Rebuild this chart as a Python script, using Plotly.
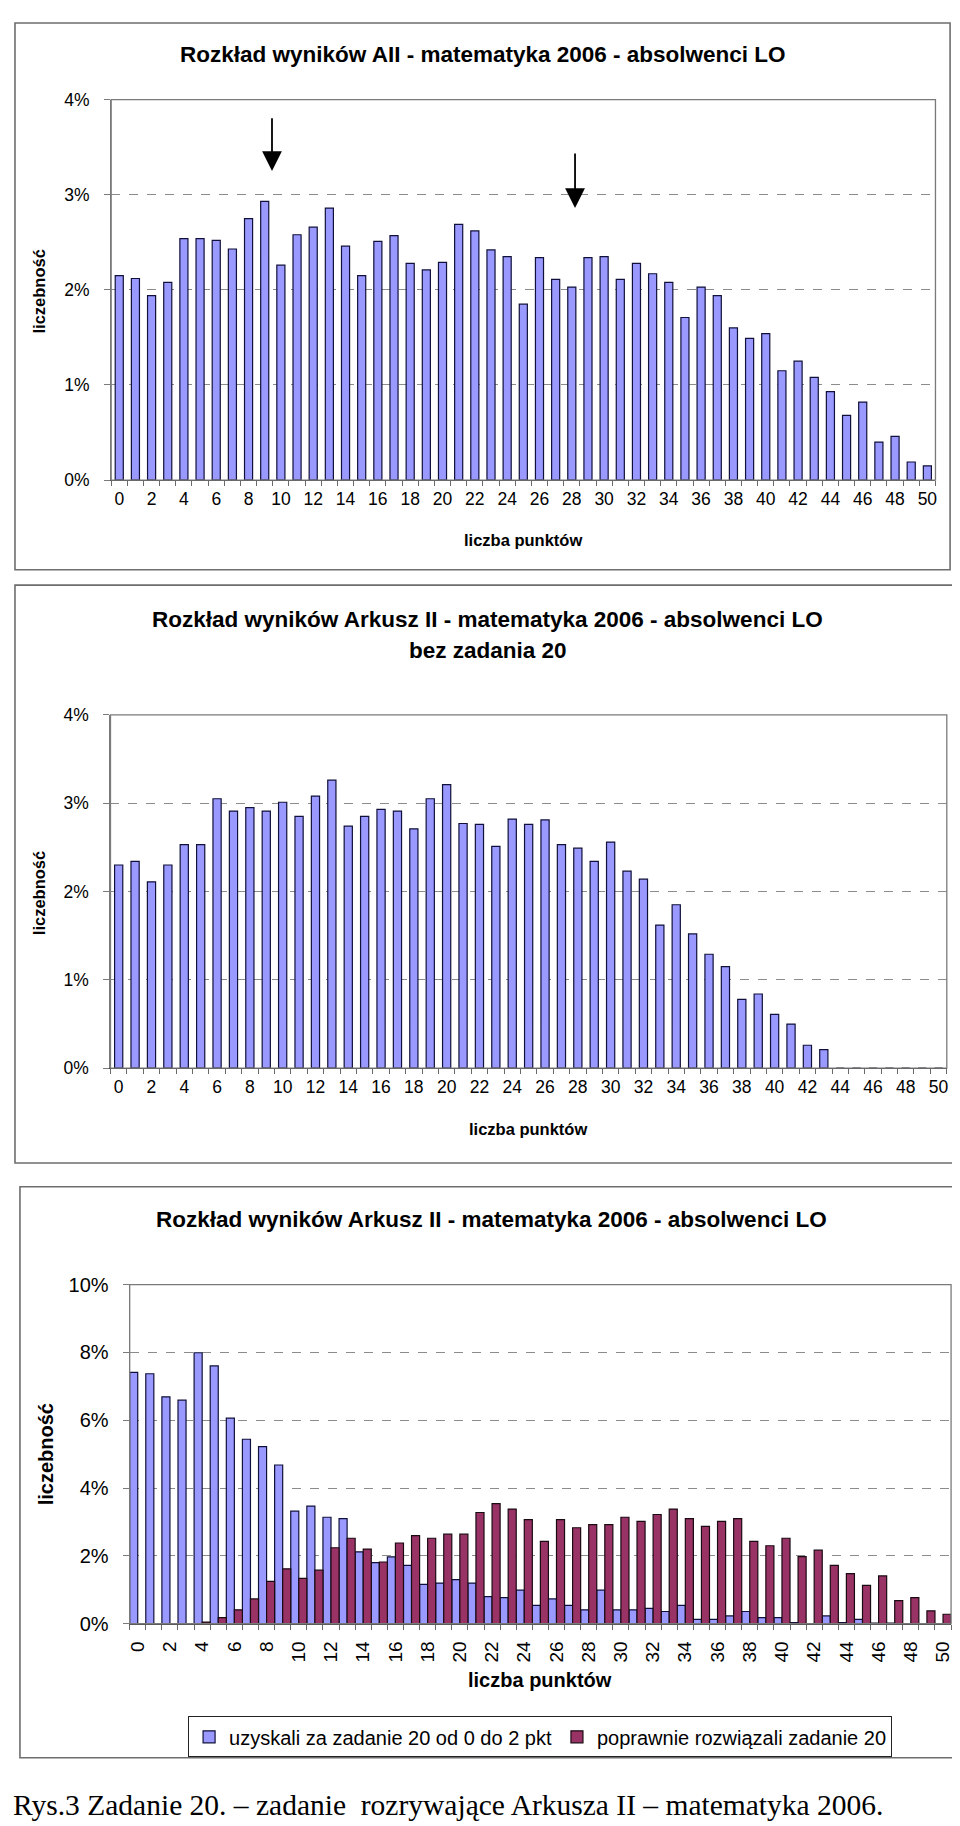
import plotly.graph_objects as go

# ---------------- data ----------------
points = list(range(51))
tick_points = list(range(0, 51, 2))
tick_labels = [str(v) for v in tick_points]

# chart 1: Arkusz I+II (AII) - % of students per score
all_ii = [2.15, 2.12, 1.94, 2.08, 2.54, 2.54, 2.52, 2.43, 2.75, 2.93,
          2.26, 2.58, 2.66, 2.86, 2.46, 2.15, 2.51, 2.57, 2.28, 2.21,
          2.29, 2.69, 2.62, 2.42, 2.35, 1.85, 2.34, 2.11, 2.03, 2.34,
          2.35, 2.11, 2.28, 2.17, 2.08, 1.71, 2.03, 1.94, 1.60, 1.49,
          1.54, 1.15, 1.25, 1.08, 0.93, 0.68, 0.82, 0.40, 0.46, 0.19, 0.15]

# chart 2: Arkusz II without task 20
bez_20 = [2.30, 2.34, 2.11, 2.30, 2.53, 2.53, 3.05, 2.91, 2.95, 2.91,
          3.01, 2.85, 3.08, 3.26, 2.74, 2.85, 2.93, 2.91, 2.71, 3.05,
          3.21, 2.77, 2.76, 2.51, 2.82, 2.76, 2.81, 2.53, 2.49, 2.34,
          2.56, 2.23, 2.14, 1.62, 1.85, 1.52, 1.29, 1.15, 0.78, 0.84,
          0.61, 0.50, 0.26, 0.21, 0, 0, 0, 0, 0, 0, 0]

# chart 3: two groups
low_20 = [7.41, 7.37, 6.69, 6.59, 7.99, 7.60, 6.06, 5.44, 5.22, 4.68,
          3.32, 3.47, 3.14, 3.10, 2.12, 1.80, 1.97, 1.72, 1.16, 1.20,
          1.30, 1.20, 0.80, 0.77, 0.99, 0.54, 0.73, 0.54, 0.41, 0.99,
          0.41, 0.41, 0.45, 0.36, 0.54, 0.13, 0.13, 0.23, 0.36, 0.18,
          0.18, 0.03, 0.0, 0.23, 0.03, 0.13, 0.02, 0.02, 0.0, 0.0, 0.0]
ok_20 = [0, 0, 0, 0, 0.05, 0.18, 0.41, 0.73, 1.25, 1.62,
         1.34, 1.58, 2.24, 2.52, 2.20, 1.82, 2.38, 2.60, 2.52, 2.64,
         2.64, 3.28, 3.54, 3.38, 3.07, 2.43, 3.07, 2.83, 2.92, 2.92,
         3.14, 3.02, 3.22, 3.38, 3.10, 2.87, 3.02, 3.10, 2.43, 2.30,
         2.52, 1.98, 2.17, 1.72, 1.48, 1.13, 1.41, 0.68, 0.77, 0.38, 0.28]

series_names = ["uzyskali za zadanie 20 od 0 do 2 pkt",
                "poprawnie rozwiązali zadanie 20"]

# arrows on chart 1: (score position, tip %, tail %)
arrow_x = [9.45, 28.2]
arrow_tip = [3.25, 2.86]
arrow_tail = [3.82, 3.45]

titles = ["Rozkład wyników AII - matematyka 2006 - absolwenci LO",
          "Rozkład wyników Arkusz II - matematyka 2006 - absolwenci LO",
          "bez zadania 20",
          "Rozkład wyników Arkusz II - matematyka 2006 - absolwenci LO"]
x_title = "liczba punktów"
y_title = "liczebność"
caption = "Rys.3 Zadanie 20. – zadanie \u00a0rozrywające Arkusza II – matematyka 2006."

# ---------------- layout helpers ----------------
W, H = 960, 1826
FONT = "Liberation Sans, Arial, sans-serif"
BLUE = "#9999FF"
MAROON = "#993366"
EDGE = "#10103a"
GRID = "#8c8c8c"


def fx(v):
    return v / W


def fy(v):
    return 1 - v / H


fig = go.Figure()

fig.add_trace(go.Bar(x=points, y=all_ii, marker=dict(color=BLUE, line=dict(color=EDGE, width=1.2)),
                     width=0.5, offset=-0.25, xaxis="x", yaxis="y", showlegend=False))
fig.add_trace(go.Bar(x=points, y=bez_20, marker=dict(color=BLUE, line=dict(color=EDGE, width=1.2)),
                     width=0.5, offset=-0.25, xaxis="x2", yaxis="y2", showlegend=False))
fig.add_trace(go.Bar(x=points, y=low_20, name=series_names[0],
                     marker=dict(color=BLUE, line=dict(color=EDGE, width=1.2)),
                     width=0.5, offset=-0.5, xaxis="x3", yaxis="y3"))
fig.add_trace(go.Bar(x=points, y=ok_20, name=series_names[1],
                     marker=dict(color=MAROON, line=dict(color="#1a0a12", width=1.2)),
                     width=0.5, offset=0.0, xaxis="x3", yaxis="y3"))

charts = [
    dict(xd=(100.7, 929.3), yd=(81.7, 466.7), ymax=4, dtick=1, ys=17.5, xs=17.5, ang=0, stand=3, ystand=11),
    dict(xd=(100.0, 940.7), yd=(704.3, 1062.0), ymax=4, dtick=1, ys=17.5, xs=17.5, ang=0, stand=3, ystand=11),
    dict(xd=(119.3, 945.0), yd=(1281.0, 1624.3), ymax=10, dtick=2, ys=20, xs=19, ang=-90, stand=9, ystand=10),
]

layout = dict(
    width=W, height=H, margin=dict(l=0, r=0, t=0, b=0),
    paper_bgcolor="white", plot_bgcolor="white",
    font=dict(family=FONT, color="black"),
    barmode="overlay",
    legend=dict(orientation="h", x=fx(178), y=fy(1718), xanchor="left", yanchor="top",
                bordercolor="#222222", borderwidth=1, bgcolor="white",
                font=dict(size=20, family=FONT), traceorder="normal",
                itemwidth=30, tracegroupgap=0),
    shapes=[], annotations=[],
)

for i, c in enumerate(charts):
    sx = "" if i == 0 else str(i + 1)
    layout["xaxis" + sx] = dict(
        domain=[fx(c["xd"][0]), fx(c["xd"][1])], anchor="y" + sx,
        range=[-0.5, 50.5], tickmode="array", tickvals=tick_points, ticktext=tick_labels,
        ticks="", showgrid=False, zeroline=False, showline=True, linecolor="#3a3a3a", linewidth=1.2,
        tickangle=c["ang"], tickfont=dict(size=c["xs"], family=FONT, color="black"),
        ticklabelstandoff=c["stand"],
        minor=dict(tickmode="linear", tick0=-0.5, dtick=1, ticks="outside", ticklen=5,
                   tickcolor="#6a6a6a", tickwidth=1, showgrid=False),
        fixedrange=True,
    )
    layout["yaxis" + sx] = dict(
        domain=[fy(c["yd"][1]), fy(c["yd"][0])], anchor="x" + sx,
        range=[0, c["ymax"]], dtick=c["dtick"], tick0=0, ticksuffix="%",
        ticks="outside", ticklen=6, tickcolor="#7a7a7a",
        showgrid=True, gridcolor=GRID, griddash="dash", gridwidth=1,
        zeroline=False, showline=True, linecolor="#7a7a7a", linewidth=1.2,
        tickfont=dict(size=c["ys"], family=FONT, color="black"), ticklabelstandoff=c["ystand"],
        fixedrange=True,
    )
    layout["shapes"].append(dict(type="rect", xref="x" + sx + " domain", yref="y" + sx + " domain",
                                 x0=0, x1=1, y0=0, y1=1, line=dict(color="#7a7a7a", width=1.3),
                                 fillcolor="rgba(0,0,0,0)", layer="above"))

# outer frames of the three charts
for (x0, x1, y0, y1) in [(4, 944, 4, 557.5), (4, 954, 573, 1158), (9, 958, 1182, 1760)]:
    layout["shapes"].append(dict(type="rect", xref="paper", yref="paper",
                                 x0=fx(x0), x1=fx(x1), y0=fy(y1), y1=fy(y0),
                                 line=dict(color="#6e6e6e", width=1.6), fillcolor="rgba(0,0,0,0)"))

ann = layout["annotations"]


def text(x, y, s, size, bold=False, angle=0, family=FONT, xanchor="center"):
    ann.append(dict(x=fx(x), y=fy(y), xref="paper", yref="paper", showarrow=False,
                    text=("<b>%s</b>" % s) if bold else s, textangle=angle,
                    xanchor=xanchor, yanchor="middle",
                    font=dict(size=size, family=family, color="black")))


# titles
text(474, 36, titles[0], 22.5, bold=True)
text(479, 607.6, titles[1], 22.5, bold=True)
text(479, 639.6, titles[2], 22.5, bold=True)
text(483.5, 1215, titles[3], 22.5, bold=True)

# axis titles
text(515, 527, x_title, 16.5, bold=True)
text(520, 1124, x_title, 16.5, bold=True)
text(532, 1681, x_title, 20, bold=True)
text(28, 276, y_title, 16.5, bold=True, angle=-90)
text(28, 885, y_title, 16.5, bold=True, angle=-90)
text(36, 1453, y_title, 20, bold=True, angle=-90)

# caption
text(0, 1808, caption, 29.5, family="Liberation Serif, Times New Roman, serif", xanchor="left")

# arrows on chart 1
for ax_, tip, tail in zip(arrow_x, arrow_tip, arrow_tail):
    ann.append(dict(x=ax_, y=tip, ax=ax_, ay=tail, xref="x", yref="y", axref="x", ayref="y",
                    text="", showarrow=True, arrowhead=2, arrowsize=2.2, arrowwidth=1.8,
                    arrowcolor="black", standoff=0))

fig.update_layout(**layout)
fig.write_html("out.html")
